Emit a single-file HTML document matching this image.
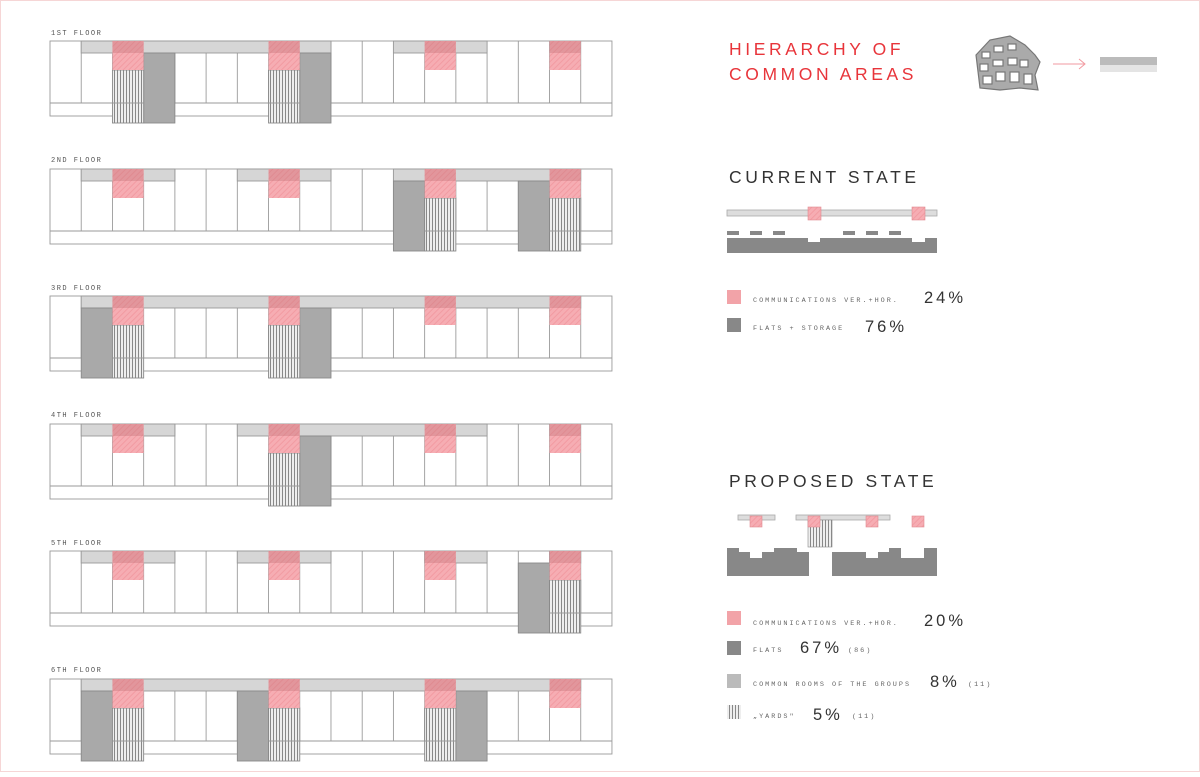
<!DOCTYPE html>
<html><head><meta charset="utf-8"><style>
body{margin:0;background:#fff;width:1200px;height:772px;overflow:hidden;font-family:"Liberation Mono","DejaVu Sans Mono",monospace}
</style></head><body>
<svg id="s" width="1200" height="772" xmlns="http://www.w3.org/2000/svg">
<defs>
<pattern id="yd" width="3" height="4" patternUnits="userSpaceOnUse"><rect width="3" height="4" fill="#eee"/><rect width="1" height="4" fill="#888"/></pattern>
<pattern id="pk" width="4" height="4" patternUnits="userSpaceOnUse" patternTransform="rotate(45)"><rect width="4" height="4" fill="#f6adb3"/><rect width="1" height="4" fill="#f29ba2"/></pattern>
</defs>
<rect x="0.5" y="0.5" width="1199" height="771" fill="none" stroke="#f6d6d6"/>
<g font-size="7" fill="#555" letter-spacing="1.5">
<text x="51" y="35">1ST FLOOR</text><text x="51" y="162">2ND FLOOR</text><text x="51" y="290">3RD FLOOR</text>
<text x="51" y="417">4TH FLOOR</text><text x="51" y="545">5TH FLOOR</text><text x="51" y="672">6TH FLOOR</text>
</g>
<g id="floors"></g>
<g font-family="Liberation Sans, sans-serif" letter-spacing="3.6" font-size="17.5">
<text x="729" y="55" fill="#e8343a">HIERARCHY OF</text>
<text x="729" y="80" fill="#e8343a">COMMON AREAS</text>
<text x="729" y="183" fill="#333">CURRENT STATE</text>
<text x="729" y="487" fill="#333">PROPOSED STATE</text>
</g>
<!-- map thumb -->
<g fill="#fff" stroke="#777" stroke-width="1.2">
<path d="M976 55 L990 40 L1010 36 L1025 45 L1035 55 L1040 62 L1035 75 L1038 90 L1020 88 L1000 90 L980 88 Z" fill="#aaa"/>
<rect x="982" y="52" width="8" height="6"/><rect x="994" y="46" width="9" height="6"/><rect x="1008" y="44" width="8" height="6"/>
<rect x="980" y="64" width="8" height="7"/><rect x="993" y="60" width="10" height="6"/><rect x="1008" y="58" width="9" height="7"/><rect x="1020" y="60" width="8" height="7"/>
<rect x="983" y="76" width="9" height="8"/><rect x="996" y="72" width="9" height="9"/><rect x="1010" y="72" width="9" height="10"/><rect x="1024" y="74" width="8" height="10"/>
</g>
<line x1="1053" y1="64" x2="1085" y2="64" stroke="#f29aa0"/><path d="M1079 59 L1085 64 L1079 69" fill="none" stroke="#f29aa0"/>
<rect x="1100" y="57" width="57" height="8" fill="#bbb"/><rect x="1100" y="65" width="57" height="7" fill="#e4e4e4"/>
<!-- current state -->
<rect x="727" y="210" width="210" height="6" fill="#ddd" stroke="#aaa" stroke-width="0.8"/>
<rect x="808" y="207" width="13" height="13" fill="url(#pk)" stroke="#e08a90" stroke-width="0.6"/>
<rect x="912" y="207" width="13" height="13" fill="url(#pk)" stroke="#e08a90" stroke-width="0.6"/>
<g fill="#888"><rect x="727" y="231" width="12" height="4"/><rect x="750" y="231" width="12" height="4"/><rect x="773" y="231" width="12" height="4"/><rect x="843" y="231" width="12" height="4"/><rect x="866" y="231" width="12" height="4"/><rect x="889" y="231" width="12" height="4"/>
<path d="M727 238 H808 V242 H820 V238 H912 V242 H925 V238 H937 V253 H727 Z"/></g>
<rect x="727" y="290" width="14" height="14" fill="#f2a3a8"/>
<rect x="727" y="318" width="14" height="14" fill="#888"/>
<g font-size="6.8" fill="#666" letter-spacing="2"><text x="753" y="302">COMMUNICATIONS VER.+HOR.</text><text x="753" y="330">FLATS + STORAGE</text>
<text x="753" y="625">COMMUNICATIONS VER.+HOR.</text><text x="753" y="652">FLATS</text><text x="848" y="652">(86)</text>
<text x="753" y="686">COMMON ROOMS OF THE GROUPS</text><text x="968" y="686">(11)</text>
<text x="753" y="718">„YARDS"</text><text x="852" y="718">(11)</text></g>
<g font-size="16.5" fill="#333" letter-spacing="3" font-family="Liberation Sans, sans-serif">
<text x="924" y="303">24%</text><text x="865" y="332">76%</text>
<text x="924" y="626">20%</text><text x="800" y="653">67%</text><text x="930" y="687">8%</text><text x="813" y="720">5%</text></g>
<!-- proposed -->
<rect x="738" y="515" width="37" height="5" fill="#ddd" stroke="#aaa" stroke-width="0.8"/>
<rect x="796" y="515" width="94" height="5" fill="#ddd" stroke="#aaa" stroke-width="0.8"/>
<rect x="808" y="520" width="24" height="27" fill="url(#yd)" stroke="#888" stroke-width="0.6"/>
<g fill="url(#pk)" stroke="#e08a90" stroke-width="0.6"><rect x="750" y="516" width="12" height="11"/><rect x="808" y="516" width="12" height="11"/><rect x="866" y="516" width="12" height="11"/><rect x="912" y="516" width="12" height="11"/></g>
<g fill="#888"><path d="M727 548 H739 V552 H750 V558 H762 V552 H774 V548 H797 V552 H809 V576 H727 Z"/>
<path d="M832 552 H866 V558 H878 V552 H889 V548 H901 V558 H912 V558 H924 V548 H937 V576 H832 Z"/></g>
<rect x="727" y="611" width="14" height="14" fill="#f2a3a8"/>
<rect x="727" y="641" width="14" height="14" fill="#888"/>
<rect x="727" y="674" width="14" height="14" fill="#bbb"/>
<rect x="727" y="705" width="14" height="14" fill="url(#yd)"/>
</svg>
<script>
var NS="http://www.w3.org/2000/svg",g=document.getElementById("floors");
function r(x,y,w,h,f,s){var e=document.createElementNS(NS,"rect");e.setAttribute("x",x);e.setAttribute("y",y);e.setAttribute("width",w);e.setAttribute("height",h);e.setAttribute("fill",f);if(s){e.setAttribute("stroke",s);e.setAttribute("stroke-width","0.9");}g.appendChild(e);}
function l(x1,y1,x2,y2){var e=document.createElementNS(NS,"line");e.setAttribute("x1",x1);e.setAttribute("y1",y1);e.setAttribute("x2",x2);e.setAttribute("y2",y2);e.setAttribute("stroke","#9a9a9a");e.setAttribute("stroke-width","0.9");g.appendChild(e);}
var X0=50,M=31.22;function X(i){return X0+i*M;}
var floors=[
 {y:41,cor:[[1,9],[11,14]],dark:[3,8],yard:[2,7]},
 {y:169,cor:[[1,4],[6,9],[11,17]],dark:[11,15],yard:[12,16]},
 {y:296,cor:[[1,17]],dark:[1,8],yard:[2,7]},
 {y:424,cor:[[1,4],[6,14]],dark:[8],yard:[7]},
 {y:551,cor:[[1,4],[6,9],[12,14],[16,17]],dark:[15],yard:[16]},
 {y:679,cor:[[1,17]],dark:[1,6,13],yard:[2,7,12]}
];
floors.forEach(function(f){
 var y=f.y,H=75,B=y+62;
 r(X0,y,18*M,H,"#fff","#9a9a9a");
 for(var i=1;i<18;i++)l(X(i),y,X(i),B);
 l(X0,B,X(18),B);
 f.cor.forEach(function(c){r(X(c[0]),y,(c[1]-c[0])*M,12,"#d6d6d6","#9a9a9a");});
 f.dark.forEach(function(i){r(X(i),y+12,M,70,"#a9a9a9","#8a8a8a");});
 f.yard.forEach(function(i){r(X(i),y+29,M,53,"url(#yd)","#8a8a8a");l(X(i),B,X(i+1),B);});
 [2,7,12,16].forEach(function(i){r(X(i),y,M,29,"url(#pk)");r(X(i),y,M,12,"rgba(190,110,115,0.35)");});
});
</script>
</body></html>
